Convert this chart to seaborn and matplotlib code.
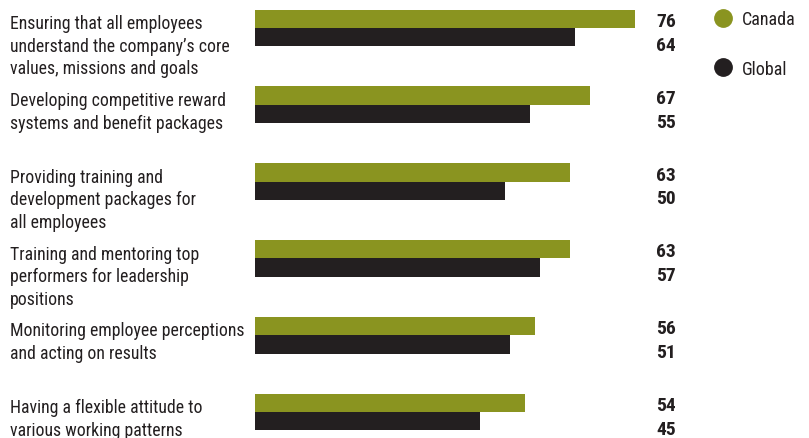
import matplotlib
matplotlib.use("Agg")
import matplotlib.pyplot as plt
import matplotlib.transforms as mtransforms
from matplotlib.lines import Line2D
import seaborn as sns
import pandas as pd

categories = [
    "Ensuring that all employees\nunderstand the company\u2019s core\nvalues, missions and goals",
    "Developing competitive reward\nsystems and benefit packages",
    "Providing training and\ndevelopment packages for\nall employees",
    "Training and mentoring top\nperformers for leadership\npositions",
    "Monitoring employee perceptions\nand acting on results",
    "Having a flexible attitude to\nvarious working patterns",
]
canada = [76, 67, 63, 63, 56, 54]
global_vals = [64, 55, 50, 57, 51, 45]
series = ["Canada", "Global"]
colors = ["#8a9420", "#231f20"]

df = pd.DataFrame({
    "cat": categories * 2,
    "series": [series[0]] * len(categories) + [series[1]] * len(categories),
    "value": canada + global_vals,
})

sns.set_style("white")
FONT = ["Roboto Condensed", "Liberation Sans Narrow", "DejaVu Sans"]
plt.rcParams["font.family"] = FONT
plt.rcParams["font.stretch"] = "condensed"

W, H = 809, 439
fig = plt.figure(figsize=(W / 100, H / 100), dpi=100)
ax = fig.add_axes([255 / W, 0, 400 / W, 1])
sns.barplot(data=df, y="cat", x="value", hue="series", palette=colors,
            width=0.48, orient="h", ax=ax, legend=False, saturation=1,
            linewidth=0)
pitch = 76.8
ax.set_xlim(0, 80)
ax.set_ylim((H - 29) / pitch, -29 / pitch)
ax.axis("off")

tr = mtransforms.blended_transform_factory(fig.transFigure, ax.transData)
for i, cat in enumerate(categories):
    fig.text(10 / W, i - 0.18, cat, transform=tr, ha="left", va="top",
             fontsize=12.8, color="#231f20", linespacing=1.32)
    fig.text(676 / W, i - 0.09, str(canada[i]), transform=tr, ha="right",
             va="center", fontsize=14, fontweight="bold", color="#231f20")
    fig.text(676 / W, i + 0.22, str(global_vals[i]), transform=tr, ha="right",
             va="center", fontsize=14, fontweight="bold", color="#231f20")

handles = [Line2D([], [], marker="o", ls="", markersize=12.5, color=c) for c in colors]
fig.legend(handles, series, loc="upper left", bbox_to_anchor=(712 / W, 1 - 11 / H),
           frameon=False, fontsize=13, labelspacing=1.75, handletextpad=0.45,
           borderpad=0, borderaxespad=0, handlelength=1.2, labelcolor="#231f20")

fig.savefig("out.png", dpi=100)
